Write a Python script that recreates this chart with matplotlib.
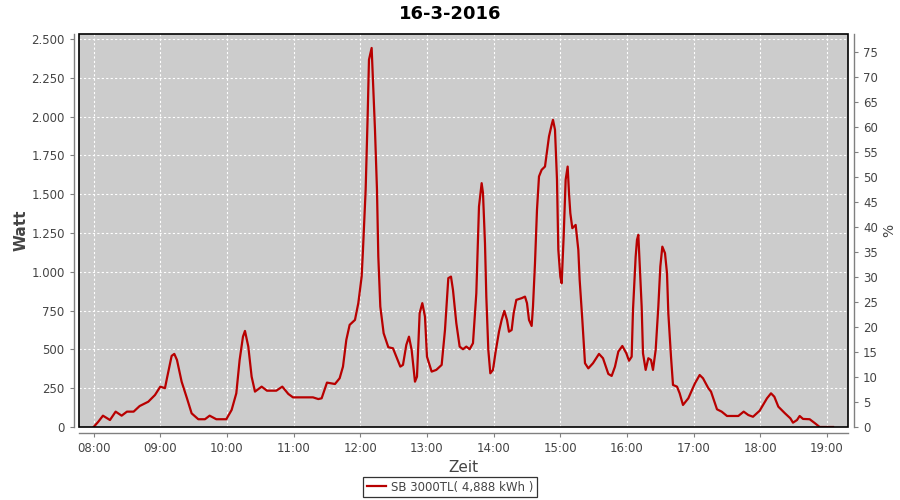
import matplotlib
matplotlib.use("Agg")
import matplotlib.pyplot as plt
from matplotlib.ticker import FuncFormatter, MultipleLocator
from matplotlib.patches import Rectangle

hours = [8.00, 8.07, 8.14, 8.245, 8.33, 8.42, 8.50, 8.60, 8.69, 8.82, 8.92,
         9.00, 9.07, 9.10, 9.17, 9.21, 9.25, 9.32, 9.40, 9.47, 9.57, 9.67, 9.74, 9.84, 9.99,
         10.07, 10.14, 10.19, 10.24, 10.27, 10.32, 10.37, 10.42, 10.52, 10.60, 10.74, 10.83, 10.92, 10.99,
         11.29, 11.37, 11.42, 11.50, 11.62, 11.69, 11.74, 11.79, 11.84, 11.92, 11.97,
         12.02, 12.04, 12.08, 12.11, 12.13, 12.17, 12.19, 12.22, 12.25, 12.27, 12.30, 12.35,
         12.42, 12.49, 12.55, 12.60, 12.64, 12.69, 12.73, 12.77, 12.82, 12.85, 12.89, 12.93, 12.97,
         13.00, 13.07, 13.14, 13.22, 13.27, 13.32, 13.36, 13.39, 13.44, 13.49, 13.54, 13.59, 13.64,
         13.69, 13.74, 13.78, 13.82, 13.84, 13.87, 13.89, 13.92, 13.95, 13.99,
         14.03, 14.08, 14.12, 14.16, 14.20, 14.23, 14.27, 14.30, 14.34, 14.42, 14.47, 14.50, 14.53,
         14.57, 14.59, 14.62, 14.65, 14.68, 14.72, 14.77, 14.79, 14.83, 14.87, 14.89, 14.92, 14.95, 14.97,
         15.00, 15.02, 15.05, 15.08, 15.11, 15.13, 15.15, 15.18, 15.23, 15.27, 15.29, 15.33, 15.37,
         15.42, 15.49, 15.58, 15.64, 15.72, 15.77, 15.82, 15.87, 15.93, 15.99,
         16.03, 16.07, 16.09, 16.13, 16.15, 16.17, 16.19, 16.22, 16.24, 16.28, 16.32, 16.36, 16.39,
         16.43, 16.47, 16.50, 16.53, 16.57, 16.60, 16.62, 16.66, 16.69, 16.75, 16.79, 16.84, 16.92,
         17.02, 17.09, 17.14, 17.22, 17.26, 17.35, 17.42, 17.50, 17.67, 17.75, 17.82, 17.89, 17.99,
         18.10, 18.16, 18.21, 18.27, 18.37, 18.45, 18.49, 18.55, 18.59, 18.64, 18.74, 18.82, 18.89,
         19.09]
watt = [0, 34, 73, 45, 99, 73, 99, 99, 135, 163, 206,
        260, 250, 314, 458, 471, 432, 292, 185, 88, 50, 50, 73, 50, 50,
        110, 217, 432, 582, 619, 518, 324, 228, 260, 234, 234, 260, 213, 191,
        191, 180, 185, 286, 277, 314, 389, 561, 658, 690, 798,
        969, 1141, 1528, 2000, 2366, 2442, 2237, 1915, 1528, 1098, 776, 604,
        514, 507, 443, 389, 400, 529, 582, 496, 292, 324, 733, 798, 711,
        453, 357, 368, 400, 625, 959, 969, 883, 669, 518, 501, 518, 501,
        540, 862, 1420, 1571, 1507, 1184, 840, 496, 346, 368,
        486, 614, 690, 748, 690, 614, 625, 733, 819, 830, 840, 798, 690,
        651, 776, 1055, 1399, 1614, 1657, 1678, 1743, 1872, 1947, 1979, 1915, 1593, 1141,
        969, 926, 1227, 1593, 1678, 1507, 1378, 1281, 1302, 1141, 948, 690, 411,
        378, 411, 471, 443, 342, 329, 389, 486, 522, 475,
        427, 453, 754, 1098, 1206, 1238, 1055, 776, 475, 368, 443, 432, 368,
        496, 776, 1034, 1162, 1120, 991, 733, 453, 271, 260, 217, 142, 185,
        282, 335, 314, 250, 228, 114, 99, 71, 71, 99, 77, 66, 105,
        185, 217, 195, 131, 88, 56, 28, 45, 71, 52, 50, 24, 0,
        0]

x_ticks = list(range(8, 20))
series_label = "SB 3000TL( 4,888 kWh )"

grey = "#808080"
txt = "#444444"

fig = plt.figure(figsize=(9, 5), dpi=100)
ax = fig.add_axes([0.0881, 0.146, 0.8545, 0.786])
ax.set_facecolor("#cccccc")

line, = ax.plot(hours, watt, color="#b80000", linewidth=1.6)

ax.set_xlim(7.785, 19.32)
ax.set_ylim(0, 2532)
ax.set_xticks(x_ticks)
ax.xaxis.set_major_formatter(FuncFormatter(lambda v, p: "%02d:00" % int(round(v))))
ax.yaxis.set_major_locator(MultipleLocator(250))
ax.yaxis.set_major_formatter(FuncFormatter(lambda v, p: f"{int(v):,}".replace(",", ".")))
ax.grid(True, color="white", linestyle=(0, (2, 2)), linewidth=0.8)

ax2 = ax.twinx()
ax2.set_ylim(0, 78.7)
ax2.yaxis.set_major_locator(MultipleLocator(5))

for a in (ax, ax2):
    for s in a.spines.values():
        s.set_visible(False)
    a.tick_params(colors=grey, labelcolor=txt, labelsize=8.5, length=3, width=0.8)

for name, a in (("left", ax), ("bottom", ax), ("right", ax2)):
    a.spines[name].set_visible(True)
    a.spines[name].set_position(("outward", 4))
    a.spines[name].set_color(grey)
    a.spines[name].set_linewidth(1)

# schwarzer Rahmen um den Plotbereich
ax.add_patch(Rectangle((0, 0), 1, 1, transform=ax.transAxes, fill=False,
                       edgecolor="black", linewidth=1.2, clip_on=False, zorder=5))

ax.set_ylabel("Watt", fontsize=11, color=txt, fontweight="bold", labelpad=2)
ax2.set_ylabel("%", fontsize=10, color=txt, labelpad=3)
ax.set_xlabel("Zeit", fontsize=11, color=txt, labelpad=4)

fig.text(0.5, 0.972, "16-3-2016", ha="center", va="center", fontsize=13,
         fontweight="bold", color="black")

leg = fig.legend([line], [series_label], loc="center", bbox_to_anchor=(0.5, 0.026),
                 frameon=True, fancybox=False, fontsize=8.5, handlelength=1.6,
                 borderpad=0.3, handletextpad=0.4)
leg.get_frame().set_edgecolor("black")
leg.get_frame().set_linewidth(0.9)
for t in leg.get_texts():
    t.set_color(txt)

fig.savefig("out.png", dpi=100)
